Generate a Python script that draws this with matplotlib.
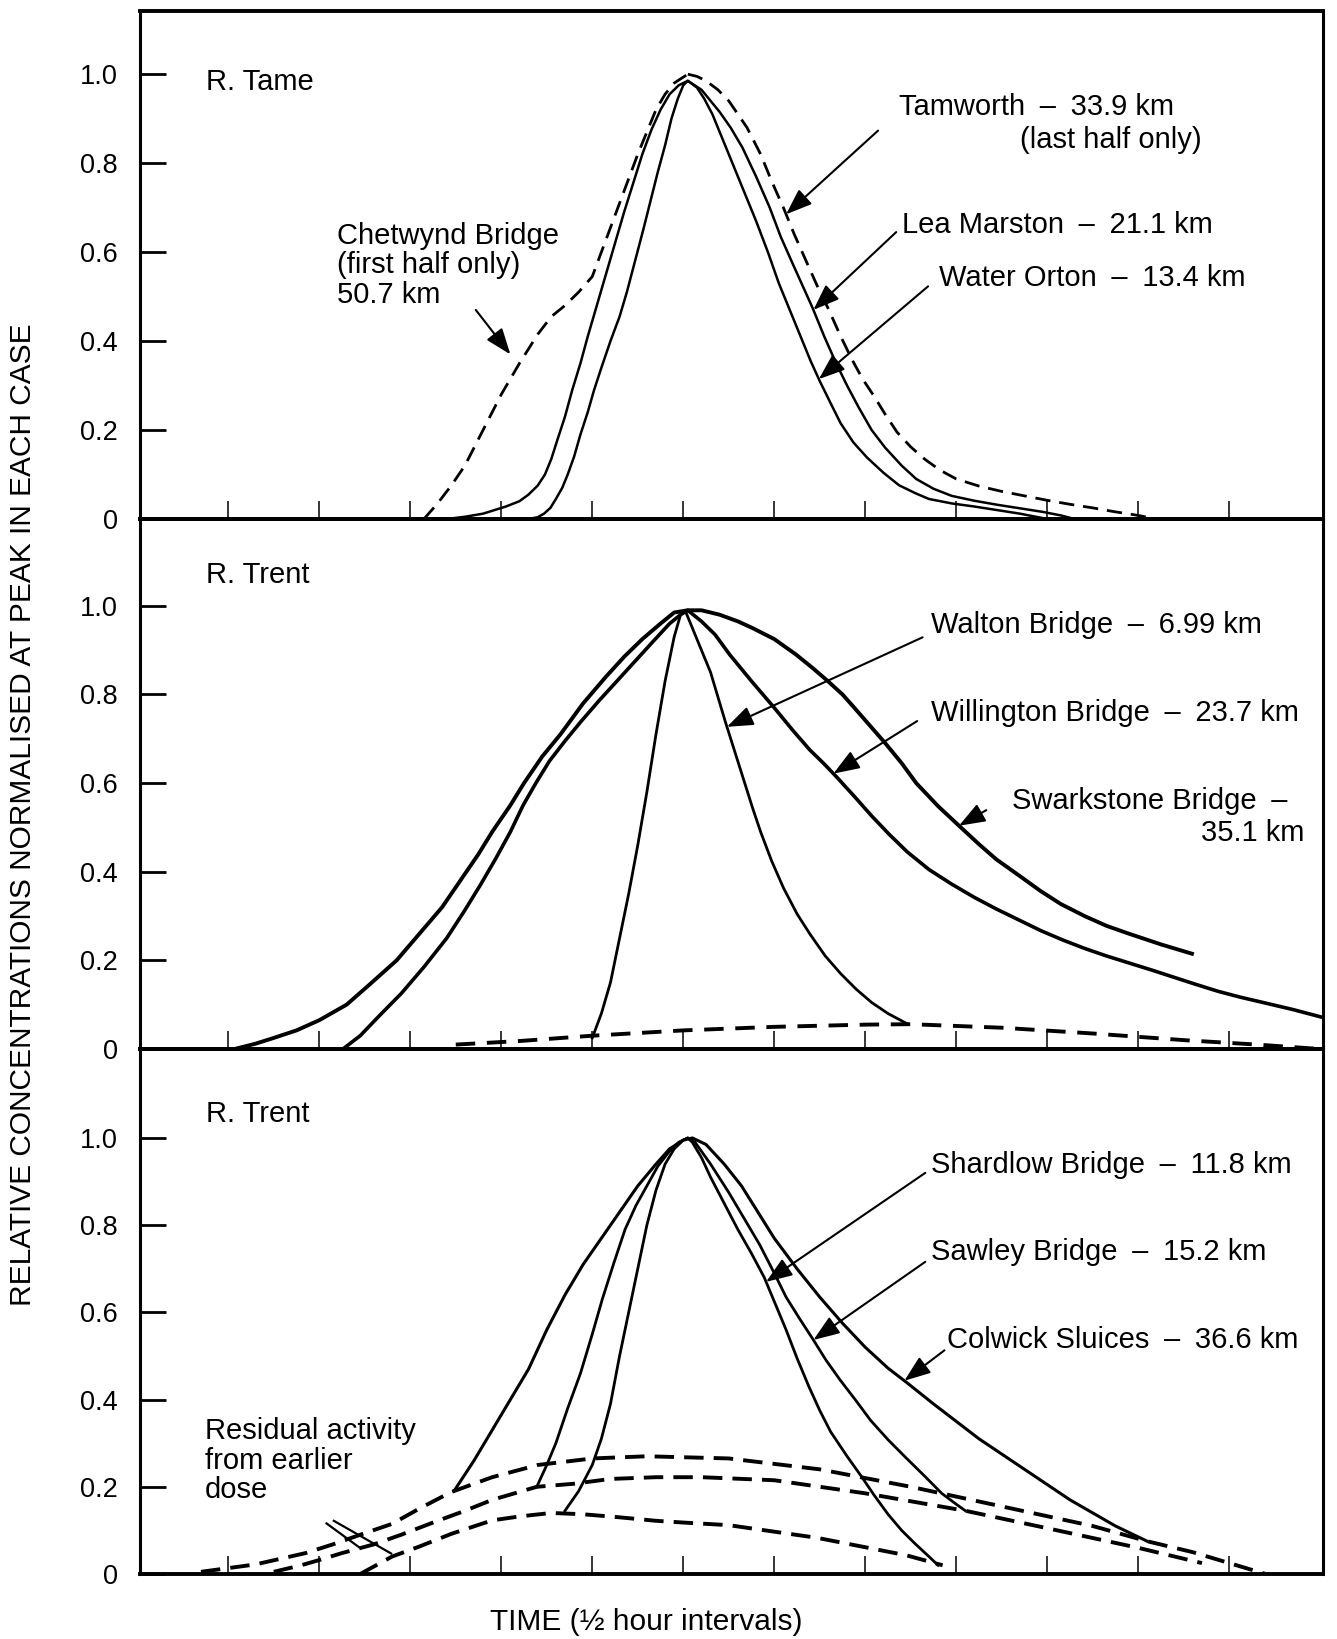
import matplotlib.pyplot as plt
import numpy as np

plt.rcParams['font.family'] = ['Liberation Sans', 'DejaVu Sans']

# time in half-hour steps, concentration relative to the peak of each curve
tick_times = list(range(1, 13))
conc_ticks = [0, 0.2, 0.4, 0.6, 0.8, 1.0]
conc_labels = ['0', '0.2', '0.4', '0.6', '0.8', '1.0']

# --- R. Tame ---
chetwynd_t = [3.15, 3.3, 3.45, 3.6, 3.8, 4.0, 4.2, 4.4, 4.55, 4.7, 4.85, 5.0, 5.1, 5.2, 5.3, 5.4,
              5.5, 5.6, 5.7, 5.8, 5.9, 6.05]
chetwynd_v = [0.0, 0.035, 0.075, 0.12, 0.2, 0.28, 0.35, 0.415, 0.455, 0.48, 0.51, 0.545, 0.6, 0.655, 0.71,
              0.765, 0.82, 0.87, 0.92, 0.955, 0.98, 1.0]

tamworth_t = [6.05, 6.15, 6.25, 6.38, 6.5, 6.6, 6.7, 6.85, 6.97, 7.1, 7.22, 7.35, 7.47, 7.6, 7.72,
              7.85, 7.97, 8.1, 8.22, 8.35, 8.5, 8.65, 8.82, 9.0, 9.25, 9.5, 9.75, 10.0, 10.25,
              10.5, 10.75, 11.0, 11.2]
tamworth_v = [1.0, 0.995, 0.985, 0.965, 0.94, 0.91, 0.88, 0.82, 0.76, 0.70, 0.64, 0.58, 0.525, 0.47, 0.415,
              0.36, 0.315, 0.275, 0.235, 0.195, 0.162, 0.135, 0.11, 0.09, 0.074, 0.062, 0.052, 0.042, 0.033,
              0.025, 0.016, 0.008, 0.0]

lea_t = [3.4, 3.6, 3.8, 4.05, 4.2, 4.3, 4.4, 4.48, 4.55, 4.62, 4.7, 4.78, 4.87, 4.95, 5.05, 5.15,
         5.25, 5.35, 5.45, 5.55, 5.65, 5.75, 5.85, 5.95, 6.05, 6.2, 6.3, 6.4, 6.52, 6.65, 6.8, 6.95,
         7.07, 7.2, 7.31, 7.42, 7.55, 7.68, 7.8, 7.93, 8.07, 8.22, 8.4, 8.56, 8.75, 8.95, 9.2, 9.45,
         9.7, 9.95, 10.15, 10.3]
lea_v = [0.0, 0.005, 0.012, 0.028, 0.04, 0.055, 0.075, 0.1, 0.135, 0.18, 0.23, 0.29, 0.35, 0.41, 0.48, 0.55,
         0.62, 0.69, 0.755, 0.82, 0.875, 0.92, 0.955, 0.975, 0.985, 0.965, 0.94, 0.915, 0.88, 0.835, 0.77, 0.70,
         0.635, 0.575, 0.525, 0.475, 0.41, 0.35, 0.3, 0.25, 0.2, 0.16, 0.12, 0.09, 0.068, 0.052, 0.041, 0.032,
         0.024, 0.016, 0.008, 0.0]

orton_t = [4.3, 4.4, 4.47, 4.54, 4.6, 4.67, 4.73, 4.8, 4.87, 4.95, 5.02, 5.1, 5.2, 5.3, 5.38, 5.47,
           5.56, 5.64, 5.72, 5.8, 5.87, 5.94, 6.0, 6.05, 6.15, 6.23, 6.32, 6.44, 6.56, 6.68, 6.8, 6.93,
           7.05, 7.17, 7.29, 7.4, 7.5, 7.62, 7.73, 7.87, 8.02, 8.2, 8.37, 8.55, 8.7, 8.95, 9.2, 9.45,
           9.7, 10.0]
orton_v = [0.0, 0.004, 0.012, 0.025, 0.045, 0.07, 0.1, 0.14, 0.19, 0.24, 0.29, 0.34, 0.4, 0.455, 0.51, 0.58,
           0.65, 0.715, 0.78, 0.84, 0.9, 0.945, 0.975, 0.985, 0.97, 0.945, 0.91, 0.85, 0.79, 0.73, 0.67, 0.6,
           0.53, 0.47, 0.41, 0.355, 0.31, 0.26, 0.215, 0.172, 0.138, 0.104, 0.076, 0.058, 0.045, 0.035, 0.028, 0.02,
           0.012, 0.0]

# --- R. Trent, upper reach ---
swark_t = [1.07, 1.3, 1.5, 1.75, 2.0, 2.3, 2.55, 2.85, 3.1, 3.35, 3.55, 3.75, 3.9, 4.1, 4.25, 4.45,
           4.65, 4.9, 5.15, 5.35, 5.55, 5.75, 5.9, 6.05, 6.2, 6.4, 6.6, 6.76, 7.0, 7.24, 7.42, 7.59,
           7.75, 7.88, 8.05, 8.22, 8.4, 8.56, 8.8, 9.05, 9.25, 9.44, 9.7, 9.93, 10.15, 10.41, 10.65,
           10.9, 11.25, 11.59]
swark_v = [0.0, 0.012, 0.025, 0.042, 0.065, 0.1, 0.145, 0.2, 0.26, 0.32, 0.38, 0.44, 0.49, 0.55, 0.6, 0.66,
           0.71, 0.78, 0.84, 0.885, 0.925, 0.96, 0.985, 0.99, 0.99, 0.98, 0.965, 0.95, 0.925, 0.89, 0.86, 0.83,
           0.8, 0.77, 0.73, 0.69, 0.645, 0.6, 0.548, 0.5, 0.462, 0.428, 0.39, 0.356, 0.327, 0.3, 0.278,
           0.26, 0.236, 0.215]

will_t = [2.26, 2.45, 2.66, 2.9, 3.15, 3.4, 3.59, 3.77, 3.94, 4.1, 4.24, 4.38, 4.53, 4.7, 4.88, 5.07,
          5.27, 5.47, 5.67, 5.85, 5.97, 6.05, 6.2, 6.35, 6.51, 6.75, 7.0, 7.2, 7.39, 7.54, 7.68, 7.88,
          8.07, 8.26, 8.46, 8.7, 8.95, 9.2, 9.44, 9.7, 9.93, 10.17, 10.41, 10.65, 10.9, 11.15, 11.39,
          11.63, 11.88, 12.12, 12.37, 12.7, 13.05]
will_v = [0.0, 0.03, 0.075, 0.125, 0.185, 0.25, 0.31, 0.37, 0.43, 0.49, 0.55, 0.6, 0.65, 0.695, 0.74, 0.785,
          0.83, 0.875, 0.92, 0.96, 0.98, 0.99, 0.965, 0.935, 0.89, 0.83, 0.77, 0.72, 0.675, 0.645, 0.615, 0.57,
          0.526, 0.485, 0.445, 0.405, 0.372, 0.342, 0.316, 0.29, 0.267, 0.246, 0.227, 0.21, 0.194, 0.178, 0.162,
          0.146, 0.13, 0.117, 0.105, 0.089, 0.07]

walton_t = [5.0, 5.1, 5.2, 5.3, 5.4, 5.5, 5.6, 5.7, 5.8, 5.9, 5.97, 6.02, 6.1, 6.2, 6.3, 6.46, 6.56,
            6.66, 6.76, 6.85, 6.97, 7.1, 7.25, 7.39, 7.56, 7.73, 7.9, 8.07, 8.25, 8.46]
walton_v = [0.025, 0.08, 0.15, 0.25, 0.35, 0.46, 0.58, 0.71, 0.83, 0.93, 0.98, 0.99, 0.95, 0.9, 0.85, 0.74,
            0.675, 0.61, 0.545, 0.49, 0.425, 0.364, 0.305, 0.26, 0.21, 0.17, 0.135, 0.105, 0.08, 0.057]

trent1_resid_t = [3.5, 4.2, 5.0, 6.0, 7.0, 8.0, 8.5, 9.5, 10.5, 11.5, 12.3, 13.0]
trent1_resid_v = [0.01, 0.018, 0.03, 0.042, 0.05, 0.055, 0.056, 0.048, 0.035, 0.02, 0.01, 0.0]

# --- R. Trent, lower reach ---
colwick_t = [3.48, 3.7, 3.9, 4.1, 4.3, 4.5, 4.7, 4.9, 5.1, 5.3, 5.5, 5.7, 5.85, 6.0, 6.1, 6.25, 6.45,
             6.64, 6.82, 7.0, 7.25, 7.5, 7.75, 8.0, 8.25, 8.45, 8.75, 9.0, 9.25, 9.5, 9.75, 10.0,
             10.25, 10.5, 10.75, 11.0, 11.1]
colwick_v = [0.19, 0.26, 0.33, 0.4, 0.47, 0.56, 0.64, 0.71, 0.77, 0.83, 0.89, 0.94, 0.975, 0.995, 1.0, 0.985,
             0.94, 0.89, 0.83, 0.77, 0.70, 0.635, 0.575, 0.52, 0.472, 0.44, 0.39, 0.35, 0.31, 0.275, 0.24, 0.205,
             0.17, 0.14, 0.11, 0.085, 0.075]

sawley_t = [4.39, 4.5, 4.6, 4.73, 4.87, 5.0, 5.11, 5.24, 5.36, 5.48, 5.6, 5.72, 5.85, 5.95, 6.05,
            6.13, 6.3, 6.5, 6.67, 6.84, 7.0, 7.13, 7.28, 7.42, 7.57, 7.72, 7.9, 8.06, 8.25, 8.45, 8.65,
            8.84, 9.0, 9.1]
sawley_v = [0.2, 0.25, 0.3, 0.38, 0.46, 0.55, 0.63, 0.715, 0.79, 0.845, 0.89, 0.935, 0.97, 0.99, 1.0,
            0.99, 0.94, 0.875, 0.815, 0.755, 0.69, 0.635, 0.585, 0.54, 0.49, 0.446, 0.397, 0.352, 0.308, 0.266, 0.225,
            0.185, 0.16, 0.145]

shardlow_t = [4.7, 4.85, 5.0, 5.1, 5.2, 5.3, 5.4, 5.5, 5.6, 5.7, 5.8, 5.9, 6.0, 6.05, 6.1, 6.2, 6.3,
              6.45, 6.6, 6.75, 6.89, 7.0, 7.13, 7.25, 7.38, 7.5, 7.62, 7.8, 7.96, 8.1, 8.25, 8.4, 8.55,
              8.7, 8.8]
shardlow_v = [0.145, 0.19, 0.25, 0.31, 0.39, 0.5, 0.6, 0.7, 0.8, 0.88, 0.94, 0.975, 0.995, 1.0, 0.99, 0.955,
              0.91, 0.85, 0.79, 0.735, 0.68, 0.625, 0.56, 0.495, 0.43, 0.375, 0.326, 0.27, 0.223, 0.18, 0.137, 0.1,
              0.069, 0.04, 0.02]

resid_hi_t = [0.7, 1.3, 1.85, 2.15, 2.45, 2.8, 3.1, 3.45, 3.9, 4.4, 5.0, 5.6, 6.5, 7.5, 8.5, 9.5,
              10.5, 11.1, 11.6, 12.4]
resid_hi_v = [0.005, 0.022, 0.048, 0.068, 0.09, 0.115, 0.15, 0.188, 0.222, 0.25, 0.265, 0.27, 0.265, 0.24,
              0.2, 0.155, 0.11, 0.075, 0.05, 0.0]

resid_mid_t = [1.5, 1.8, 2.0, 2.25, 2.6, 2.9, 3.25, 3.6, 3.9, 4.39, 4.8, 5.2, 5.7, 6.2, 7.0, 8.0,
               9.1, 10.0, 11.0, 11.7]
resid_mid_v = [0.005, 0.02, 0.032, 0.048, 0.068, 0.09, 0.118, 0.145, 0.17, 0.2, 0.207, 0.218, 0.222, 0.222,
               0.215, 0.185, 0.145, 0.105, 0.06, 0.025]

resid_lo_t = [2.45, 2.8, 3.1, 3.45, 3.9, 4.2, 4.55, 4.9, 5.3, 5.7, 6.0, 6.5, 7.47, 8.45, 8.85]
resid_lo_v = [0.0, 0.04, 0.063, 0.092, 0.123, 0.132, 0.14, 0.137, 0.13, 0.122, 0.118, 0.112, 0.083, 0.043, 0.02]

# break marks across the residual curves
break_a_t = [2.08, 2.44]
break_a_v = [0.116, 0.061]
break_b_t = [2.16, 2.79]
break_b_v = [0.122, 0.047]

W, H = 1337, 1639
fig = plt.figure(figsize=(W / 100, H / 100), dpi=100)

ARROW = dict(arrowstyle='-|>,head_length=0.8,head_width=0.3', color='k', lw=1.5,
             shrinkA=0, shrinkB=0, mutation_scale=20)
FS = 21
LABEL = dict(fontsize=FS, va='center', ha='left')
DASH = '\u2002\u2013\u2002'


def make_panel(top_px, bottom_px, ymax):
    ax = fig.add_axes([140 / W, 1 - bottom_px / H, (1323 - 140) / W, (bottom_px - top_px) / H])
    ax.set_xlim(0.03, 13.03)
    ax.set_ylim(0, ymax)
    ax.set_xticks(tick_times)
    ax.set_xticklabels([])
    ax.tick_params(axis='x', direction='in', length=13, width=1.1)
    ax.set_yticks(conc_ticks)
    ax.set_yticklabels(conc_labels)
    ax.tick_params(axis='y', direction='in', length=19, width=2.0, pad=16, labelsize=19.5)
    for side in ['left', 'right']:
        ax.spines[side].set_linewidth(2.2)
    for side in ['top', 'bottom']:
        ax.spines[side].set_linewidth(2.8)
    ax.patch.set_alpha(0)
    return ax


def pointer(ax, tail, curve_t, curve_v, t_tip):
    tip = (t_tip, float(np.interp(t_tip, curve_t, curve_v)))
    ax.annotate('', xy=tip, xytext=tail, arrowprops=ARROW)


# ---- R. Tame ----
ax1 = make_panel(11, 519, 1.142)
dash1 = (0, (5.5, 3.2))
ax1.plot(chetwynd_t, chetwynd_v, color='k', lw=2.0, ls=dash1)
ax1.plot(tamworth_t, tamworth_v, color='k', lw=2.0, ls=dash1)
ax1.plot(lea_t, lea_v, color='k', lw=1.8)
ax1.plot(orton_t, orton_v, color='k', lw=1.8)

ax1.text(0.76, 0.983, 'R. Tame', **LABEL)
ax1.text(2.2, 0.57, 'Chetwynd Bridge\n(first half only)\n50.7 km', fontsize=FS, va='center',
         ha='left', linespacing=1.08)
ax1.annotate('', xy=(4.1, 0.37), xytext=(3.72, 0.47), arrowprops=ARROW)
ax1.text(8.37, 0.927, 'Tamworth' + DASH + '33.9 km', **LABEL)
ax1.text(11.7, 0.853, '(last half only)', fontsize=FS, va='center', ha='right')
pointer(ax1, (8.14, 0.873), tamworth_t, tamworth_v, 7.13)
ax1.text(8.4, 0.661, 'Lea Marston' + DASH + '21.1 km', **LABEL)
pointer(ax1, (8.34, 0.645), lea_t, lea_v, 7.43)
ax1.text(8.81, 0.541, 'Water Orton' + DASH + '13.4 km', **LABEL)
pointer(ax1, (8.69, 0.523), orton_t, orton_v, 7.49)

# ---- R. Trent (upper) ----
ax2 = make_panel(519, 1049, 1.196)
ax2.plot(swark_t, swark_v, color='k', lw=2.8)
ax2.plot(will_t, will_v, color='k', lw=2.6)
ax2.plot(walton_t, walton_v, color='k', lw=2.0)
ax2.plot(trent1_resid_t, trent1_resid_v, color='k', lw=2.8, ls=(0, (5, 3)))

ax2.text(0.76, 1.07, 'R. Trent', **LABEL)
ax2.text(8.72, 0.957, 'Walton Bridge' + DASH + '6.99 km', **LABEL)
pointer(ax2, (8.63, 0.929), walton_t, walton_v, 6.48)
ax2.text(8.72, 0.758, 'Willington Bridge' + DASH + '23.7 km', **LABEL)
pointer(ax2, (8.57, 0.74), will_t, will_v, 7.65)
ax2.text(9.61, 0.56, 'Swarkstone Bridge\u2002\u2013', **LABEL)
ax2.text(12.82, 0.487, '35.1 km', fontsize=FS, va='center', ha='right')
pointer(ax2, (9.33, 0.539), swark_t, swark_v, 9.03)

# ---- R. Trent (lower) ----
ax3 = make_panel(1049, 1574, 1.204)
dash3 = (0, (5, 2.6))
ax3.plot(colwick_t, colwick_v, color='k', lw=2.2)
ax3.plot(sawley_t, sawley_v, color='k', lw=2.0)
ax3.plot(shardlow_t, shardlow_v, color='k', lw=2.0)
ax3.plot(resid_hi_t, resid_hi_v, color='k', lw=2.8, ls=dash3)
ax3.plot(resid_mid_t, resid_mid_v, color='k', lw=2.8, ls=dash3)
ax3.plot(resid_lo_t, resid_lo_v, color='k', lw=2.8, ls=dash3)
ax3.plot(break_a_t, break_a_v, color='k', lw=1.6)
ax3.plot(break_b_t, break_b_v, color='k', lw=1.6)

ax3.text(0.76, 1.055, 'R. Trent', **LABEL)
ax3.text(8.72, 0.939, 'Shardlow Bridge' + DASH + '11.8 km', **LABEL)
pointer(ax3, (8.66, 0.92), shardlow_t, shardlow_v, 6.91)
ax3.text(8.72, 0.738, 'Sawley Bridge' + DASH + '15.2 km', **LABEL)
pointer(ax3, (8.66, 0.716), sawley_t, sawley_v, 7.43)
ax3.text(8.9, 0.537, 'Colwick Sluices' + DASH + '36.6 km', **LABEL)
pointer(ax3, (8.87, 0.513), colwick_t, colwick_v, 8.43)
ax3.text(0.74, 0.26, 'Residual activity\nfrom earlier\ndose', fontsize=FS, va='center',
         ha='left', linespacing=1.08)

fig.text(23 / W, 1 - 815 / H, 'RELATIVE CONCENTRATIONS NORMALISED AT PEAK IN EACH CASE',
         rotation=90, ha='center', va='center', fontsize=21.5)
fig.text(646 / W, 1 - 1622 / H, 'TIME (\u00bd hour intervals)', ha='center', va='center', fontsize=21.5)

fig.savefig('out.png', dpi=100)
